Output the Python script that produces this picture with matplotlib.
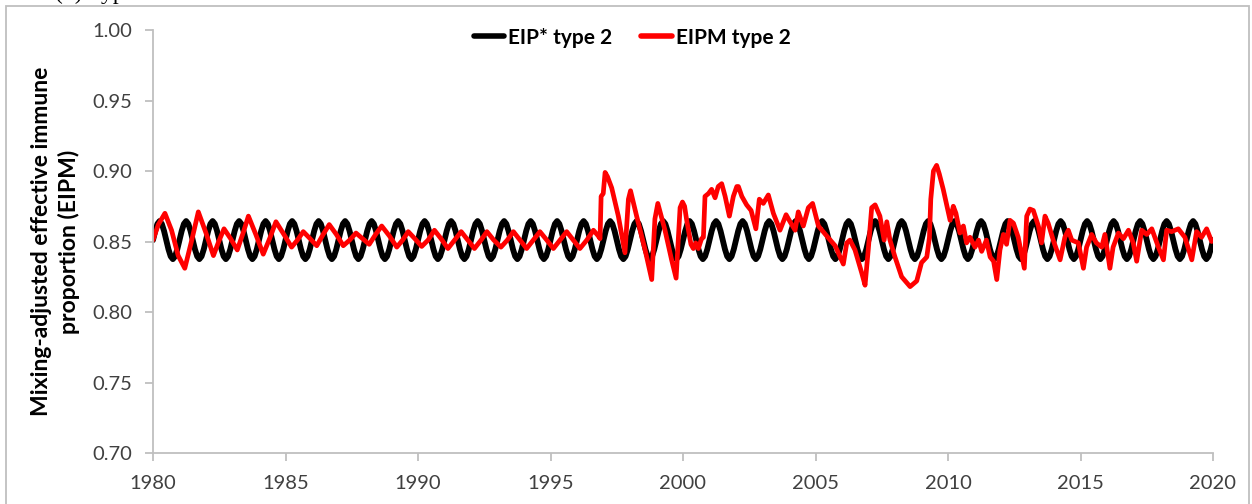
import numpy as np
import matplotlib
matplotlib.use("Agg")
import matplotlib.pyplot as plt
from matplotlib.patches import Rectangle

# ---------------- data ----------------
# EIP* type 2: a purely seasonal (annual) profile, read at monthly steps within one year
eip_star_month_profile = [0.851, 0.8575, 0.8625, 0.8645, 0.8625, 0.8575,
                          0.851, 0.8445, 0.8395, 0.8375, 0.8395, 0.8445]
eip_star_first_year = 1980
eip_star_n_years = 40

# EIPM type 2
eipm_years = [
    1980.00, 1980.20, 1980.45, 1980.70, 1980.95, 1981.20, 1981.45, 1981.71, 1982.00, 1982.28,
    1982.48, 1982.68, 1982.93, 1983.18, 1983.40, 1983.60, 1983.88, 1984.16, 1984.40, 1984.64,
    1984.94, 1985.23, 1985.45, 1985.67, 1985.93, 1986.18, 1986.42, 1986.65, 1986.92, 1987.18,
    1987.42, 1987.66, 1987.91, 1988.16, 1988.40, 1988.63, 1988.92, 1989.20, 1989.42, 1989.63,
    1989.88, 1990.14, 1990.38, 1990.62, 1990.87, 1991.13, 1991.38, 1991.63, 1991.88, 1992.13,
    1992.38, 1992.60, 1992.86, 1993.13, 1993.37, 1993.60, 1993.85, 1994.10, 1994.35, 1994.60,
    1994.86, 1995.11, 1995.36, 1995.61, 1995.86, 1996.11, 1996.37, 1996.62, 1996.80, 1996.87,
    1996.91, 1996.99, 1997.06, 1997.15, 1997.31, 1997.56, 1997.81, 1997.94, 1998.02, 1998.25,
    1998.57, 1998.82, 1998.94, 1999.05, 1999.32, 1999.57, 1999.74, 1999.89, 1999.98, 2000.06,
    2000.14, 2000.30, 2000.39, 2000.48, 2000.58, 2000.70, 2000.77, 2000.83, 2000.96, 2001.08,
    2001.21, 2001.33, 2001.46, 2001.59, 2001.75, 2001.90, 2002.03, 2002.09, 2002.22, 2002.40,
    2002.57, 2002.75, 2002.88, 2003.03, 2003.22, 2003.41, 2003.66, 2003.89, 2004.04, 2004.23,
    2004.35, 2004.54, 2004.73, 2004.89, 2005.11, 2005.42, 2005.74, 2006.05, 2006.18, 2006.30,
    2006.49, 2006.74, 2006.87, 2006.99, 2007.12, 2007.25, 2007.43, 2007.59, 2007.69, 2007.81,
    2008.00, 2008.25, 2008.57, 2008.82, 2009.00, 2009.20, 2009.30, 2009.35, 2009.45, 2009.57,
    2009.67, 2009.82, 2010.08, 2010.20, 2010.30, 2010.45, 2010.58, 2010.70, 2010.83, 2011.02,
    2011.15, 2011.27, 2011.45, 2011.59, 2011.72, 2011.84, 2011.96, 2012.09, 2012.21, 2012.34,
    2012.47, 2012.65, 2012.88, 2012.97, 2013.09, 2013.22, 2013.41, 2013.53, 2013.66, 2013.78,
    2013.97, 2014.23, 2014.41, 2014.54, 2014.67, 2014.92, 2015.11, 2015.23, 2015.42, 2015.60,
    2015.80, 2015.92, 2016.11, 2016.23, 2016.43, 2016.62, 2016.81, 2016.99, 2017.12, 2017.31,
    2017.50, 2017.69, 2017.94, 2018.13, 2018.25, 2018.44, 2018.69, 2018.94, 2019.20, 2019.38,
    2019.57, 2019.76, 2019.95,
]
eipm_values = [
    0.851, 0.862, 0.870, 0.858, 0.840, 0.831, 0.850, 0.871, 0.856, 0.840,
    0.850, 0.859, 0.852, 0.844, 0.856, 0.868, 0.855, 0.841, 0.852, 0.864,
    0.855, 0.846, 0.851, 0.857, 0.852, 0.847, 0.855, 0.862, 0.855, 0.847,
    0.851, 0.856, 0.852, 0.848, 0.855, 0.861, 0.854, 0.846, 0.851, 0.857,
    0.852, 0.8465, 0.851, 0.858, 0.852, 0.845, 0.851, 0.857, 0.851, 0.845,
    0.851, 0.857, 0.851, 0.846, 0.851, 0.857, 0.851, 0.845, 0.851, 0.857,
    0.851, 0.845, 0.851, 0.857, 0.851, 0.845, 0.851, 0.858, 0.854, 0.852,
    0.882, 0.884, 0.899, 0.896, 0.888, 0.868, 0.842, 0.880, 0.886, 0.868,
    0.844, 0.823, 0.866, 0.877, 0.858, 0.837, 0.824, 0.874, 0.878, 0.875,
    0.865, 0.848, 0.845, 0.849, 0.845, 0.852, 0.853, 0.882, 0.884, 0.887,
    0.881, 0.889, 0.891, 0.882, 0.868, 0.882, 0.889, 0.889, 0.882, 0.876,
    0.872, 0.859, 0.880, 0.877, 0.883, 0.870, 0.858, 0.869, 0.864, 0.858,
    0.871, 0.861, 0.874, 0.877, 0.861, 0.854, 0.847, 0.834, 0.849, 0.851,
    0.844, 0.828, 0.819, 0.844, 0.874, 0.876, 0.868, 0.851, 0.864, 0.851,
    0.839, 0.825, 0.818, 0.822, 0.835, 0.839, 0.853, 0.880, 0.900, 0.904,
    0.898, 0.887, 0.865, 0.875, 0.870, 0.856, 0.861, 0.849, 0.853, 0.846,
    0.851, 0.843, 0.851, 0.839, 0.836, 0.823, 0.844, 0.855, 0.848, 0.865,
    0.863, 0.853, 0.831, 0.868, 0.873, 0.872, 0.861, 0.849, 0.868, 0.863,
    0.851, 0.837, 0.853, 0.858, 0.851, 0.849, 0.831, 0.846, 0.855, 0.849,
    0.846, 0.855, 0.831, 0.846, 0.856, 0.852, 0.858, 0.849, 0.836, 0.858,
    0.855, 0.859, 0.846, 0.837, 0.858, 0.857, 0.859, 0.853, 0.837, 0.857,
    0.853, 0.859, 0.850,
]

x_ticks = [1980, 1985, 1990, 1995, 2000, 2005, 2010, 2015, 2020]
y_ticks = [0.70, 0.75, 0.80, 0.85, 0.90, 0.95, 1.00]
series_labels = ["EIP* type 2", "EIPM type 2"]
y_label = "Mixing-adjusted effective immune\nproportion (EIPM)"
panel_title = "(b) Type 2"

# ---------------- figure ----------------
plt.rcParams['font.family'] = ['Lato', 'DejaVu Sans']

W, H, DPI = 1252, 504, 100
fig = plt.figure(figsize=(W / DPI, H / DPI), dpi=DPI)
fig.patch.set_facecolor('white')

# outer chart border
fig.patches.append(Rectangle((6 / W, -0.05), (1249 - 6) / W, 1.05 - 6 / H,
                             transform=fig.transFigure, fill=False,
                             edgecolor='#bfbfbf', lw=1.3, zorder=0))
# cut-off panel title above the border
fig.text(55 / W, 1.0 + 1 / H, panel_title, family='Liberation Serif',
         fontsize=17, va='baseline', ha='left', color='black')

ax = fig.add_axes([153 / W, 1 - 453 / H, (1213 - 153) / W, (453 - 30) / H])

star_x = np.arange(eip_star_n_years * 12 + 1) / 12.0 + eip_star_first_year
star_y = np.tile(eip_star_month_profile, eip_star_n_years + 1)[:len(star_x)]

ax.plot(star_x, star_y, color='black', lw=4.2, label=series_labels[0],
        solid_joinstyle='round', solid_capstyle='round')
ax.plot(eipm_years, eipm_values, color='#ff0000', lw=3.4, label=series_labels[1],
        solid_joinstyle='round', solid_capstyle='round')

ax.set_xlim(1980, 2020)
ax.set_ylim(0.70, 1.00)
ax.set_xticks(x_ticks)
ax.set_yticks(y_ticks)
ax.set_yticklabels([f"{v:.2f}" for v in y_ticks])

for side in ['top', 'right']:
    ax.spines[side].set_visible(False)
for side in ['left', 'bottom']:
    ax.spines[side].set_color('#bfbfbf')
    ax.spines[side].set_linewidth(1.3)

ax.tick_params(axis='both', direction='out', length=6, width=1.3,
               color='#bfbfbf', labelcolor='#404040', labelsize=14.5)
ax.tick_params(axis='x', pad=10)
ax.tick_params(axis='y', pad=9)

ax.set_ylabel(y_label, fontsize=16.5, fontweight='bold', color='black',
              linespacing=1.3, labelpad=9)

leg = ax.legend(loc='upper center', bbox_to_anchor=(0.452, 1.05), ncol=2,
                frameon=False, handlelength=1.45, handletextpad=0.2,
                columnspacing=1.4, prop={'weight': 'bold', 'size': 15})
for line in leg.get_lines():
    line.set_linewidth(4.0)

fig.savefig('out.png', dpi=DPI, facecolor='white')
